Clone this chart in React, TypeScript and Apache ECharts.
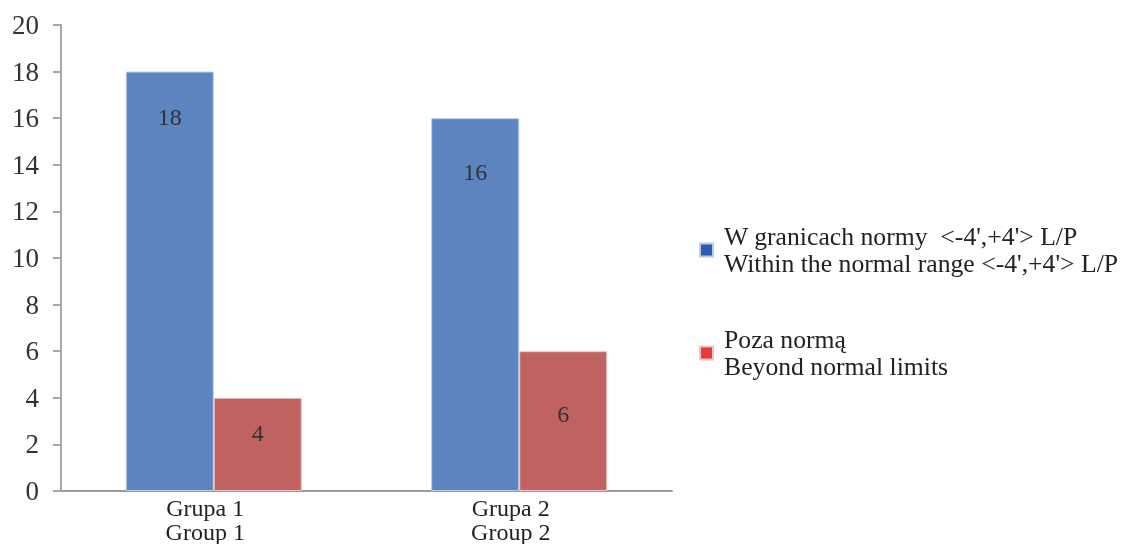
import React, { useEffect, useRef } from "react";
import * as echarts from "echarts";

const categories = ["Grupa 1\nGroup 1", "Grupa 2\nGroup 2"];
const seriesNames = [
  "W granicach normy  <-4',+4'> L/P\nWithin the normal range <-4',+4'> L/P",
  "Poza normą\nBeyond normal limits",
];
const withinNormal = [18, 16];
const beyondNormal = [4, 6];
const withinLabelDistance = [33, 42];
const beyondLabelDistance = [23, 51];

const FONT = "Liberation Serif";

export default function App() {
  const ref = useRef<HTMLDivElement>(null);
  useEffect(() => {
    if (!ref.current) return;
    const chart = echarts.init(ref.current, undefined, { renderer: "svg" });
    const labelStyle = {
      show: true,
      position: "insideTop",
      fontFamily: FONT,
      fontSize: 24,
      color: "#333",
    };
    chart.setOption({
      animation: false,
      textStyle: { fontFamily: FONT },
      grid: { left: 61, right: 450, top: 25, bottom: 53, containLabel: false },
      legend: {
        orient: "vertical",
        left: 699,
        top: 223,
        padding: 0,
        itemWidth: 13,
        itemHeight: 13,
        itemGap: 49,
        icon: "rect",
        selectedMode: false,
        textStyle: {
          fontFamily: FONT,
          fontSize: 25.7,
          lineHeight: 27,
          color: "#222",
          padding: [0, 0, 0, 6],
        },
        data: [
          { name: seriesNames[0], itemStyle: { color: "#2b5dab" } },
          { name: seriesNames[1], itemStyle: { color: "#e63b3d" } },
        ],
      },
      xAxis: {
        type: "category",
        data: categories,
        axisLine: { lineStyle: { color: "#9a9a9a", width: 2 } },
        axisTick: { show: false },
        axisLabel: {
          fontFamily: FONT,
          fontSize: 24,
          lineHeight: 24,
          color: "#222",
          margin: 5,
          padding: [0, 17, 0, 0],
        },
      },
      yAxis: {
        type: "value",
        min: 0,
        max: 20,
        interval: 2,
        axisLine: { show: true, lineStyle: { color: "#a8a8a8", width: 2 } },
        axisTick: { show: true, length: 8, lineStyle: { color: "#a8a8a8", width: 2 } },
        splitLine: { show: false },
        axisLabel: {
          fontFamily: FONT,
          fontSize: 27,
          color: "#333",
          margin: 22,
        },
      },
      series: [
        {
          name: seriesNames[0],
          type: "bar",
          barGap: "0%",
          barCategoryGap: "42.4%",
          itemStyle: { color: "#5b84c0", borderColor: "#b9cce6", borderWidth: 1 },
          data: withinNormal.map((v, i) => ({
            value: v,
            label: { ...labelStyle, distance: withinLabelDistance[i] },
          })),
        },
        {
          name: seriesNames[1],
          type: "bar",
          itemStyle: { color: "#c0625f", borderColor: "#e8c8c4", borderWidth: 1 },
          data: beyondNormal.map((v, i) => ({
            value: v,
            label: { ...labelStyle, distance: beyondLabelDistance[i] },
          })),
        },
      ],
    });
    return () => chart.dispose();
  }, []);
  return (
    <div
      ref={ref}
      style={{ position: "fixed", left: 0, top: 0, width: 1122, height: 544 }}
    />
  );
}
